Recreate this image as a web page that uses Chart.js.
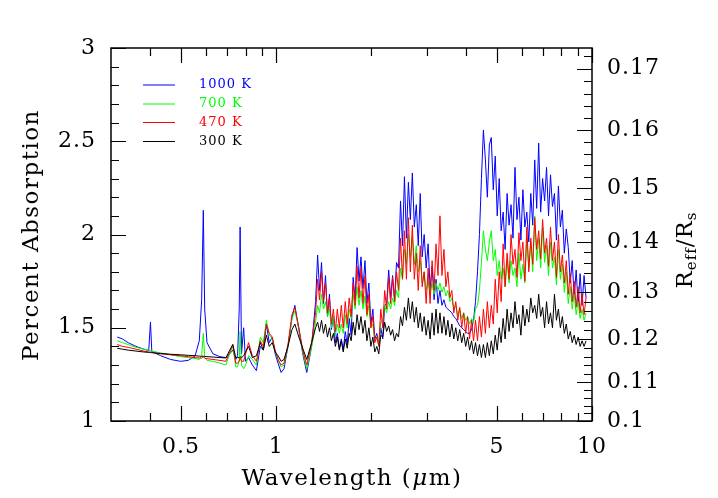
<!DOCTYPE html>
<html>
<head>
<meta charset="utf-8">
<script src="https://cdn.jsdelivr.net/npm/chart.js@4.4.1/dist/chart.umd.min.js"></script>
<style>
  html, body { margin: 0; padding: 0; background: #fff; }
  #wrap { width: 718px; height: 498px; }
</style>
</head>
<body>
<div id="wrap"><canvas id="chart" width="718" height="498"></canvas></div>
<script>
// Comprimentos de onda (µm) - grade comum das quatro curvas
const wavelength = [
  0.314, 0.326, 0.340, 0.360, 0.381, 0.395, 0.400, 0.404, 0.431, 0.463,
  0.498, 0.527, 0.554, 0.571, 0.581, 0.588, 0.594, 0.604, 0.631, 0.664,
  0.693, 0.713, 0.729, 0.745, 0.755, 0.764, 0.769, 0.777, 0.789, 0.800,
  0.818, 0.841, 0.866, 0.891, 0.911, 0.931, 0.951, 0.972, 0.993, 1.014,
  1.037, 1.059, 1.090, 1.122, 1.146, 1.180, 1.214, 1.250,
  1.295, 1.314, 1.333, 1.353, 1.372, 1.392, 1.412, 1.433, 1.454, 1.475,
  1.496, 1.518, 1.540, 1.562, 1.585, 1.608, 1.631, 1.655, 1.679, 1.703,
  1.728, 1.753, 1.778, 1.804, 1.830, 1.856, 1.883, 1.911, 1.938, 1.966,
  1.995, 2.024, 2.053, 2.083, 2.113, 2.144, 2.175, 2.206, 2.238, 2.271,
  2.304, 2.337, 2.371, 2.405, 2.440, 2.476, 2.512, 2.548, 2.585, 2.622,
  2.660, 2.699, 2.738, 2.778, 2.818, 2.859, 2.900, 2.942, 2.985, 3.028,
  3.072, 3.117, 3.162, 3.208, 3.254, 3.301, 3.349, 3.398, 3.447, 3.497,
  3.548, 3.599, 3.651, 3.704, 3.758, 3.812, 3.868, 3.924, 3.981, 4.038,
  4.097, 4.156, 4.216, 4.278, 4.340, 4.402, 4.466, 4.531, 4.597, 4.663,
  4.731, 4.799, 4.869, 4.940, 5.011, 5.084, 5.157, 5.232, 5.308, 5.385,
  5.463, 5.542, 5.622, 5.704, 5.787, 5.870, 5.955, 6.042, 6.129, 6.218,
  6.308, 6.400, 6.492, 6.587, 6.682, 6.779, 6.877, 6.977, 7.078, 7.180,
  7.284, 7.390, 7.497, 7.606, 7.716, 7.828, 7.941, 8.056, 8.173, 8.291,
  8.412, 8.534, 8.657, 8.783, 8.910, 9.039, 9.170, 9.303, 9.438, 9.575
];

// Percent absorption por temperatura
const absorp1000 = [
  1.45, 1.44, 1.42, 1.40, 1.385, 1.378, 1.53, 1.372, 1.35, 1.33,
  1.32, 1.325, 1.35, 1.43, 1.65, 2.13, 1.60, 1.42, 1.36, 1.345,
  1.34, 1.36, 1.38, 1.33, 1.35, 1.60, 2.04, 1.36, 1.50, 1.32,
  1.34, 1.30, 1.27, 1.40, 1.38, 1.52, 1.42, 1.45, 1.36, 1.31,
  1.26, 1.28, 1.40, 1.55, 1.62, 1.49, 1.36, 1.26,
  1.40, 1.52, 1.64, 1.89, 1.70, 1.85, 1.63, 1.78, 1.56, 1.68,
  1.49, 1.56, 1.42, 1.47, 1.39, 1.44, 1.38, 1.48, 1.41, 1.55,
  1.46, 1.77, 1.65, 1.93, 1.75, 1.88, 1.71, 1.86, 1.63, 1.74,
  1.52, 1.60, 1.44, 1.47, 1.41, 1.50, 1.44, 1.62, 1.63, 1.81,
  1.66, 1.78, 1.65, 1.85, 1.82, 2.18, 1.94, 2.31, 1.98, 2.28,
  2.08, 2.33, 2.04, 2.16, 1.94, 2.22, 1.88, 2.00, 1.82, 1.95,
  1.71, 1.83, 1.65, 1.76, 1.63, 1.70, 1.62, 1.65, 1.61, 1.60,
  1.59, 1.58, 1.56, 1.55, 1.53, 1.51, 1.50, 1.49, 1.48, 1.47,
  1.47, 1.49, 1.54, 1.64, 1.80, 2.00, 2.30, 2.56, 2.40, 2.20,
  2.48, 2.52, 2.24, 2.42, 2.10, 2.30, 2.02, 2.12, 1.92, 2.22,
  2.05, 2.16, 1.98, 2.36, 2.08, 2.20, 1.97, 2.24, 2.04, 2.12,
  1.96, 2.22, 2.05, 2.40, 2.14, 2.49, 2.12, 2.30, 2.18, 2.36,
  2.10, 2.32, 2.15, 2.22, 1.97, 2.26, 2.04, 2.13, 1.90, 2.03,
  1.93, 1.74, 1.86, 1.66, 1.81, 1.62, 1.79, 1.62, 1.78, 1.66
];
const absorp700 = [
  1.43, 1.42, 1.41, 1.395, 1.385, 1.38, 1.378, 1.375, 1.365, 1.355,
  1.345, 1.34, 1.335, 1.33, 1.35, 1.47, 1.34, 1.325, 1.32, 1.31,
  1.30, 1.36, 1.40, 1.29, 1.29, 1.33, 1.48, 1.30, 1.28, 1.30,
  1.35, 1.33, 1.30, 1.45, 1.42, 1.54, 1.46, 1.44, 1.37, 1.33,
  1.29, 1.30, 1.40, 1.55, 1.59, 1.50, 1.37, 1.28,
  1.40, 1.45, 1.53, 1.62, 1.58, 1.68, 1.60, 1.64, 1.56, 1.60,
  1.50, 1.56, 1.46, 1.52, 1.47, 1.52, 1.47, 1.57, 1.50, 1.60,
  1.55, 1.68, 1.60, 1.72, 1.62, 1.70, 1.60, 1.67, 1.56, 1.62,
  1.50, 1.52, 1.43, 1.45, 1.42, 1.53, 1.54, 1.62, 1.58, 1.64,
  1.60, 1.66, 1.62, 1.70, 1.66, 1.82, 1.76, 1.92, 1.84, 2.00,
  1.88, 1.99, 1.84, 1.94, 1.80, 1.86, 1.74, 1.80, 1.70, 1.75,
  1.68, 1.74, 1.68, 1.74, 1.70, 1.74, 1.69, 1.72, 1.67, 1.70,
  1.64, 1.66, 1.60, 1.62, 1.57, 1.60, 1.55, 1.58, 1.54, 1.56,
  1.52, 1.55, 1.53, 1.60, 1.62, 1.70, 1.85, 2.02, 1.92, 1.86,
  1.96, 2.02, 1.86, 1.92, 1.78, 1.86, 1.76, 1.82, 1.72, 1.86,
  1.74, 1.86, 1.78, 1.82, 1.72, 1.90, 1.76, 1.84, 1.74, 1.98,
  1.82, 1.96, 1.80, 2.10, 1.86, 1.98, 1.82, 2.04, 1.85, 1.94,
  1.78, 1.96, 1.82, 1.88, 1.73, 1.92, 1.76, 1.84, 1.69, 1.80,
  1.63, 1.72, 1.60, 1.68, 1.57, 1.64, 1.55, 1.60, 1.54, 1.58
];
const absorp470 = [
  1.41, 1.40, 1.395, 1.385, 1.375, 1.37, 1.37, 1.368, 1.36, 1.355,
  1.35, 1.345, 1.34, 1.338, 1.337, 1.345, 1.336, 1.334, 1.33, 1.325,
  1.32, 1.37, 1.41, 1.31, 1.31, 1.32, 1.34, 1.32, 1.32, 1.36,
  1.42, 1.35, 1.32, 1.43, 1.40, 1.52, 1.47, 1.45, 1.38, 1.33,
  1.30, 1.31, 1.41, 1.57, 1.61, 1.50, 1.38, 1.30,
  1.42, 1.50, 1.58, 1.76, 1.65, 1.80, 1.64, 1.74, 1.58, 1.66,
  1.52, 1.60, 1.48, 1.60, 1.50, 1.62, 1.50, 1.64, 1.52, 1.66,
  1.56, 1.74, 1.62, 1.83, 1.66, 1.82, 1.63, 1.78, 1.57, 1.68,
  1.50, 1.56, 1.42, 1.45, 1.40, 1.60, 1.50, 1.70, 1.60, 1.77,
  1.63, 1.77, 1.64, 1.80, 1.70, 1.98, 1.76, 2.02, 1.76, 2.09,
  1.80, 2.05, 1.76, 1.90, 1.70, 1.94, 1.72, 1.80, 1.63, 1.82,
  1.63, 1.86, 1.70, 1.95, 1.78, 2.10, 1.78, 1.92, 1.72, 1.80,
  1.66, 1.70, 1.58, 1.64, 1.54, 1.61, 1.50, 1.58, 1.47, 1.56,
  1.44, 1.54, 1.43, 1.54, 1.43, 1.56, 1.45, 1.60, 1.47, 1.64,
  1.50, 1.62, 1.52, 1.76, 1.58, 1.80, 1.64, 1.95, 1.72, 1.90,
  1.76, 2.00, 1.84, 1.92, 1.77, 2.01, 1.86, 1.96, 1.75, 2.04,
  1.80, 1.98, 1.84, 2.09, 1.92, 2.02, 1.87, 2.08, 1.90, 1.98,
  1.83, 2.04, 1.86, 1.96, 1.77, 2.00, 1.80, 1.89, 1.74, 1.86,
  1.68, 1.79, 1.64, 1.75, 1.61, 1.72, 1.58, 1.68, 1.57, 1.66
];
const absorp300 = [
  1.39, 1.385, 1.38, 1.375, 1.37, 1.368, 1.367, 1.366, 1.362, 1.358,
  1.355, 1.352, 1.35, 1.348, 1.347, 1.347, 1.346, 1.345, 1.343, 1.34,
  1.338, 1.38, 1.41, 1.34, 1.34, 1.34, 1.345, 1.34, 1.35, 1.37,
  1.40, 1.34, 1.35, 1.42, 1.38, 1.46, 1.40, 1.42, 1.37, 1.35,
  1.32, 1.33, 1.40, 1.49, 1.52, 1.45, 1.39, 1.33,
  1.42, 1.46, 1.50, 1.53, 1.48, 1.54, 1.47, 1.52, 1.45, 1.50,
  1.43, 1.47, 1.40, 1.45, 1.38, 1.43, 1.37, 1.44, 1.39, 1.47,
  1.43, 1.53, 1.46, 1.57, 1.49, 1.56, 1.47, 1.54, 1.43, 1.50,
  1.40, 1.45, 1.37, 1.40, 1.36, 1.46, 1.45, 1.53, 1.48, 1.51,
  1.46, 1.49, 1.43, 1.47, 1.45, 1.56, 1.51, 1.61, 1.54, 1.66,
  1.55, 1.64, 1.53, 1.61, 1.50, 1.58, 1.48, 1.56, 1.46, 1.54,
  1.44, 1.58, 1.46, 1.60, 1.47, 1.58, 1.47, 1.56, 1.46, 1.54,
  1.45, 1.52, 1.44, 1.50, 1.43, 1.49, 1.42, 1.47, 1.40, 1.45,
  1.38, 1.43, 1.36, 1.42, 1.35, 1.41, 1.34, 1.41, 1.34, 1.42,
  1.35, 1.43, 1.36, 1.46, 1.38, 1.50, 1.42, 1.55, 1.44, 1.60,
  1.48, 1.58, 1.50, 1.64, 1.52, 1.57, 1.46, 1.62, 1.51, 1.60,
  1.53, 1.66, 1.58, 1.62, 1.55, 1.68, 1.56, 1.61, 1.50, 1.64,
  1.52, 1.58, 1.50, 1.68, 1.54, 1.60, 1.50, 1.56, 1.47, 1.52,
  1.44, 1.48, 1.42, 1.46, 1.41, 1.45, 1.40, 1.43, 1.40, 1.43
];

// Rótulos dos eixos
const xTicks = [0.5, 1, 5, 10];
const xMinorTicks = [0.4, 0.6, 0.7, 0.8, 0.9, 2, 3, 4, 6, 7, 8, 9];
const yTicks = [1, 1.5, 2, 2.5, 3];
const radiusTicks = [0.1, 0.11, 0.12, 0.13, 0.14, 0.15, 0.16, 0.17];

const seriesLabels = ['1000 K', '700 K', '470 K', '300 K'];
const seriesColors = ['#0000ff', '#00ff00', '#ff0000', '#000000'];
const seriesValues = [absorp1000, absorp700, absorp470, absorp300];

const FONT = "'DejaVu Serif', serif";

// espaçamento das letras (fonte do original é mais larga)
const spacingPlugin = {
  id: 'spacing',
  beforeDraw(chart) { chart.ctx.letterSpacing = '1px'; }
};

// Moldura, ticks internos, legenda e títulos
const framePlugin = {
  id: 'frame',
  afterDraw(chart) {
    const { ctx, chartArea: a, scales } = chart;
    const x = scales.x, y = scales.y;
    ctx.save();
    ctx.strokeStyle = '#000';
    ctx.lineWidth = 1.5;
    ctx.strokeRect(a.left, a.top, a.right - a.left, a.bottom - a.top);

    ctx.lineWidth = 1.2;
    ctx.beginPath();
    const xTick = (v, len) => {
      const px = Math.round(x.getPixelForValue(v)) + 0.5;
      ctx.moveTo(px, a.bottom); ctx.lineTo(px, a.bottom - len);
      ctx.moveTo(px, a.top); ctx.lineTo(px, a.top + len);
    };
    xTicks.forEach(v => xTick(v, 15));
    xMinorTicks.forEach(v => xTick(v, 8));

    // eixo esquerdo: percent absorption
    for (let i = 10; i <= 30; i++) {
      const py = Math.round(y.getPixelForValue(i / 10)) + 0.5;
      const len = (i % 5 === 0) ? 15 : 8;
      ctx.moveTo(a.left, py); ctx.lineTo(a.left + len, py);
    }
    // eixo direito: R_eff/R_s  (P = 100 r^2)
    for (let i = 50; i <= 86; i++) {
      const r = i / 500;
      const py = Math.round(y.getPixelForValue(100 * r * r)) + 0.5;
      const len = (i % 5 === 0) ? 15 : 8;
      ctx.moveTo(a.right, py); ctx.lineTo(a.right - len, py);
    }
    ctx.stroke();

    // legenda
    ctx.letterSpacing = '1px';
    ctx.font = '13px ' + FONT;
    ctx.textBaseline = 'middle';
    ctx.textAlign = 'left';
    const legendY = [85, 104, 122.5, 141.5];
    seriesLabels.forEach((lab, i) => {
      ctx.strokeStyle = seriesColors[i];
      ctx.lineWidth = 1;
      ctx.beginPath();
      ctx.moveTo(143, legendY[i]); ctx.lineTo(175, legendY[i]);
      ctx.stroke();
      ctx.fillStyle = seriesColors[i];
      ctx.fillText(lab, 199, legendY[i]);
    });

    ctx.fillStyle = '#000';
    ctx.letterSpacing = '1.5px';
    // título esquerdo
    ctx.save();
    ctx.translate(32, 235);
    ctx.rotate(-Math.PI / 2);
    ctx.font = '23px ' + FONT;
    ctx.textAlign = 'center';
    ctx.textBaseline = 'middle';
    ctx.fillText('Percent Absorption', 0, 0);
    ctx.restore();

    // título inferior: Wavelength (µm)
    const parts = [
      ['Wavelength (', '23px ' + FONT],
      ['\u03bc', 'italic 23px ' + FONT],
      ['m)', '23px ' + FONT]
    ];
    let total = 0;
    parts.forEach(p => { ctx.font = p[1]; total += ctx.measureText(p[0]).width; });
    let cx = 352 - total / 2;
    ctx.textAlign = 'left';
    ctx.textBaseline = 'alphabetic';
    parts.forEach(p => { ctx.font = p[1]; ctx.fillText(p[0], cx, 485); cx += ctx.measureText(p[0]).width; });

    // título direito: R_eff / R_s
    ctx.letterSpacing = '1px';
    ctx.save();
    ctx.translate(686, 250);
    ctx.rotate(-Math.PI / 2);
    const rparts = [
      ['R', '23px ' + FONT, 0],
      ['eff', '15px ' + FONT, 6],
      ['/R', '23px ' + FONT, 0],
      ['s', '15px ' + FONT, 6]
    ];
    let rt = 0;
    rparts.forEach(p => { ctx.font = p[1]; rt += ctx.measureText(p[0]).width; });
    let rx = -rt / 2;
    ctx.textBaseline = 'middle';
    rparts.forEach(p => { ctx.font = p[1]; ctx.fillText(p[0], rx, p[2]); rx += ctx.measureText(p[0]).width; });
    ctx.restore();

    ctx.restore();
  }
};

const datasets = seriesValues.map((vals, i) => ({
  label: seriesLabels[i],
  data: wavelength.map((w, j) => ({ x: w, y: vals[j] })),
  borderColor: seriesColors[i],
  borderWidth: 1,
  pointRadius: 0,
  tension: 0,
  order: 3 - i
}));

new Chart(document.getElementById('chart'), {
  type: 'line',
  data: { datasets: datasets },
  options: {
    responsive: false,
    animation: false,
    layout: { padding: { top: 48, left: 0, right: 0, bottom: 0 } },
    plugins: { legend: { display: false }, tooltip: { enabled: false } },
    scales: {
      x: {
        type: 'logarithmic',
        min: 0.314,
        max: 10,
        grid: { display: false, drawTicks: false },
        border: { display: false },
        afterBuildTicks: s => { s.ticks = xTicks.map(v => ({ value: v })); },
        afterFit: s => { s.height = 77; },
        ticks: {
          autoSkip: false,
          maxRotation: 0,
          padding: 13,
          color: '#000',
          font: { family: FONT, size: 22 },
          callback: v => String(v)
        }
      },
      y: {
        type: 'linear',
        position: 'left',
        min: 1,
        max: 3,
        grid: { display: false, drawTicks: false },
        border: { display: false },
        afterBuildTicks: s => { s.ticks = yTicks.map(v => ({ value: v })); },
        afterFit: s => { s.width = 111; },
        ticks: {
          autoSkip: false,
          padding: 15,
          color: '#000',
          font: { family: FONT, size: 22 },
          callback: v => String(v)
        }
      },
      y2: {
        type: 'linear',
        position: 'right',
        min: 1,
        max: 3,
        grid: { display: false, drawTicks: false },
        border: { display: false },
        afterBuildTicks: s => { s.ticks = radiusTicks.map(r => ({ value: 100 * r * r })); },
        afterFit: s => { s.width = 126; },
        ticks: {
          autoSkip: false,
          padding: 15,
          color: '#000',
          font: { family: FONT, size: 22 },
          callback: (v, i) => String(radiusTicks[i])
        }
      }
    }
  },
  plugins: [spacingPlugin, framePlugin]
});
</script>
</body>
</html>
